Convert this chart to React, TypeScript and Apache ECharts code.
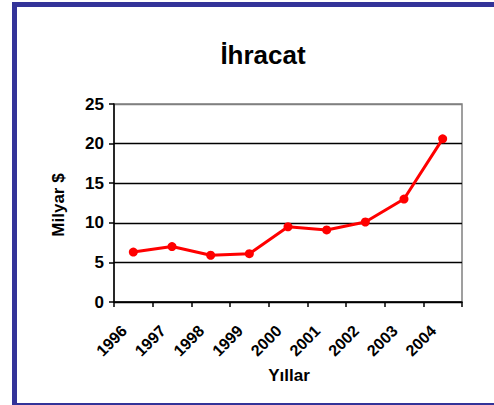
import React, { useEffect, useRef } from "react";
import * as echarts from "echarts";

const years = ["1996", "1997", "1998", "1999", "2000", "2001", "2002", "2003", "2004"];
const exports = [6.3, 7.0, 5.9, 6.1, 9.5, 9.1, 10.1, 13.0, 20.6];
const titleText = "İhracat";
const yName = "Milyar $";
const xName = "Yıllar";

export default function App() {
  const ref = useRef<HTMLDivElement>(null);
  useEffect(() => {
    if (!ref.current) return;
    const chart = echarts.init(ref.current, null, { renderer: "svg" });
    const font = "Arial, 'Liberation Sans', sans-serif";
    chart.setOption({
      animation: false,
      backgroundColor: "#ffffff",
      graphic: [
        {
          type: "rect",
          shape: { x: 14.5, y: 4.5, width: 500, height: 401 },
          style: { fill: "none", stroke: "#333399", lineWidth: 5 },
          silent: true,
          z: 100,
        },
        {
          type: "text",
          x: 58,
          y: 205,
          rotation: Math.PI / 2,
          style: {
            text: yName,
            fill: "#000",
            font: `bold 17px ${font}`,
            align: "center",
            verticalAlign: "middle",
          },
        },
        {
          type: "text",
          x: 289,
          y: 375,
          style: {
            text: xName,
            fill: "#000",
            font: `bold 17px ${font}`,
            align: "center",
            verticalAlign: "middle",
          },
        },
      ],
      title: {
        text: titleText,
        left: 258,
        top: 37,
        textAlign: "center",
        textStyle: { fontFamily: font, fontWeight: "bold", fontSize: 26, color: "#000" },
      },
      grid: {
        left: 114,
        right: 32,
        top: 104,
        bottom: 103,
        show: true,
        borderColor: "#808080",
        borderWidth: 1.5,
        backgroundColor: "#ffffff",
      },
      xAxis: {
        type: "category",
        data: years,
        boundaryGap: true,
        axisLine: { lineStyle: { color: "#000", width: 1.5 } },
        axisTick: { show: true, length: 5, inside: false, lineStyle: { color: "#000", width: 1.5 } },
        axisLabel: {
          rotate: 45,
          margin: 17,
          padding: [0, 13, 0, 0],
          color: "#000",
          fontFamily: font,
          fontWeight: "bold",
          fontSize: 16,
          interval: 0,
        },
        splitLine: { show: false },
      },
      yAxis: {
        type: "value",
        min: 0,
        max: 25,
        interval: 5,
        axisLine: { show: true, lineStyle: { color: "#000", width: 1.5 } },
        axisTick: { show: true, length: 5, lineStyle: { color: "#000", width: 1.5 } },
        axisLabel: {
          margin: 10,
          color: "#000",
          fontFamily: font,
          fontWeight: "bold",
          fontSize: 17,
        },
        splitLine: {
          show: true,
          lineStyle: {
            color: ["#000", "#000", "#000", "#000", "#000", "#808080"],
            width: 1.3,
          },
        },
      },
      series: [
        {
          type: "line",
          data: exports,
          symbol: "circle",
          symbolSize: 9,
          lineStyle: { color: "#ff0000", width: 3 },
          itemStyle: { color: "#ff0000" },
          z: 5,
        },
      ],
    });
    return () => chart.dispose();
  }, []);
  return (
    <div
      ref={ref}
      style={{ position: "fixed", left: 0, top: 0, width: 494, height: 405 }}
    />
  );
}
